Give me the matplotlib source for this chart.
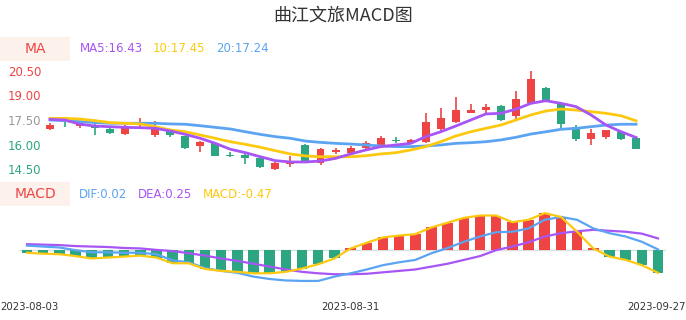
import matplotlib
matplotlib.use("Agg")
import matplotlib.pyplot as plt
import matplotlib.transforms as mtrans
from matplotlib.patches import Rectangle
import numpy as np

# ---- data ----
dates = ["2023-08-03", "2023-08-31", "2023-09-27"]
date_idx = [0, 20, 39]

opens = [16.97, 17.30, 17.15, 17.16, 16.93, 16.64, 16.99, 16.58, 16.89, 16.52,
         15.93, 16.07, 15.34, 15.38, 15.17, 14.52, 14.81, 15.97, 14.89, 15.54,
         15.50, 15.80, 15.97, 16.25, 16.07, 16.13, 16.95, 17.36, 17.95, 18.09,
         18.36, 17.76, 18.52, 19.44, 18.52, 17.09, 16.34, 16.44, 16.75, 16.38]
closes = [17.19, 17.29, 17.33, 17.04, 16.69, 17.05, 17.03, 16.99, 16.58, 15.77,
          16.17, 15.30, 15.30, 15.17, 14.64, 14.85, 14.97, 14.95, 15.71, 15.66,
          15.77, 16.11, 16.38, 16.23, 16.28, 17.36, 17.60, 18.11, 18.11, 18.28,
          17.50, 18.77, 20.01, 18.72, 17.24, 16.32, 16.69, 16.89, 16.34, 15.74]
highs = [17.30, 17.44, 17.36, 17.25, 16.98, 17.19, 17.60, 17.46, 16.92, 16.55,
         16.21, 16.09, 15.54, 15.46, 15.20, 14.95, 15.30, 16.01, 15.79, 15.77,
         15.91, 16.23, 16.52, 16.48, 16.34, 17.91, 18.22, 18.89, 18.48, 18.48,
         18.42, 19.28, 20.50, 19.50, 18.52, 17.19, 16.95, 16.89, 16.75, 16.38]
lows = [16.89, 17.09, 17.03, 16.58, 16.64, 16.61, 16.93, 16.48, 16.48, 15.74,
        15.56, 15.28, 15.23, 14.80, 14.56, 14.44, 14.64, 14.93, 14.74, 15.42,
        15.42, 15.66, 15.97, 16.07, 16.05, 16.10, 16.78, 17.30, 17.91, 17.95,
        17.44, 17.56, 18.50, 18.70, 17.03, 16.23, 15.97, 16.32, 16.28, 15.74]

ma5 = [17.54, 17.50, 17.24, 17.13, 17.09, 17.05, 17.03, 16.99, 16.83, 16.62,
       16.38, 16.07, 15.71, 15.50, 15.25, 15.01, 14.93, 14.93, 14.99, 15.15,
       15.42, 15.66, 15.87, 15.97, 16.07, 16.48, 16.78, 17.13, 17.50, 17.87,
       17.91, 18.16, 18.52, 18.68, 18.52, 18.32, 17.81, 17.19, 16.78, 16.43]
ma10 = [17.60, 17.60, 17.56, 17.46, 17.34, 17.30, 17.26, 17.09, 16.89, 16.78,
        16.58, 16.38, 16.17, 16.01, 15.83, 15.62, 15.42, 15.30, 15.25, 15.25,
        15.25, 15.31, 15.42, 15.50, 15.66, 15.87, 16.17, 16.52, 16.78, 16.99,
        17.19, 17.50, 17.81, 18.05, 18.17, 18.11, 18.01, 17.91, 17.76, 17.45]
ma20 = [17.50, 17.46, 17.40, 17.34, 17.30, 17.30, 17.30, 17.30, 17.26, 17.24,
        17.15, 17.05, 16.95, 16.78, 16.62, 16.48, 16.38, 16.21, 16.13, 16.07,
        16.03, 15.97, 15.91, 15.87, 15.87, 15.91, 15.97, 16.07, 16.11, 16.17,
        16.28, 16.44, 16.64, 16.78, 16.93, 16.99, 17.09, 17.19, 17.24, 17.24]

dif = [0.10, 0.08, 0.06, 0.005, -0.04, -0.04, -0.05, -0.05, -0.08, -0.21,
       -0.25, -0.37, -0.43, -0.47, -0.55, -0.60, -0.63, -0.64, -0.64, -0.55,
       -0.48, -0.40, -0.31, -0.25, -0.20, -0.06, 0.05, 0.18, 0.29, 0.38,
       0.39, 0.46, 0.64, 0.70, 0.64, 0.46, 0.36, 0.29, 0.18, 0.02]
dea = [0.13, 0.12, 0.11, 0.09, 0.08, 0.07, 0.05, 0.04, 0.01, -0.015,
       -0.06, -0.11, -0.17, -0.22, -0.28, -0.34, -0.40, -0.45, -0.48, -0.50,
       -0.50, -0.49, -0.46, -0.43, -0.40, -0.34, -0.28, -0.20, -0.12, 0.005,
       0.08, 0.17, 0.29, 0.36, 0.40, 0.43, 0.41, 0.39, 0.35, 0.25]
macd = [-0.05, -0.07, -0.08, -0.12, -0.17, -0.15, -0.13, -0.11, -0.15, -0.27,
        -0.27, -0.39, -0.43, -0.45, -0.48, -0.48, -0.45, -0.38, -0.29, -0.17,
        0.04, 0.16, 0.27, 0.31, 0.34, 0.48, 0.58, 0.68, 0.73, 0.73,
        0.59, 0.64, 0.78, 0.70, 0.39, 0.04, -0.13, -0.20, -0.31, -0.47]

price_ticks = [14.5, 16.0, 17.5, 19.0, 20.5]
tick_colors = ["#2ca682", "#2ca682", "#999999", "#ee4444", "#ee4444"]

RED = "#ee4444"
GREEN = "#2ca682"
PURPLE = "#a755f5"
YELLOW = "#fcc910"
BLUE = "#5ba4f2"
BOXBG = "#fdf1ec"

W, H = 686, 320
fig = plt.figure(figsize=(W / 100, H / 100), dpi=100)


def px(x0, y0, x1, y1):
    # pixel box (top-left origin) -> figure fractions
    return [x0 / W, 1 - y1 / H, (x1 - x0) / W, (y1 - y0) / H]


fig.text(0.5, 1 - 16 / H, "曲江文旅MACD图", ha="center", va="center",
         fontsize=13, color="#333333",
         family=["Noto Sans CJK SC", "DejaVu Sans"])

# ---- candlestick panel ----
ax1 = fig.add_axes(px(42.5, 65, 643.6, 175))
n = len(opens)
x = np.arange(n)
o = np.array(opens)
c = np.array(closes)
cols = [RED if cc >= oo else GREEN for oo, cc in zip(o, c)]
body_lo = np.minimum(o, c)
body_h = np.maximum(np.abs(c - o), 0.03)
ax1.vlines(x, lows, highs, colors=cols, lw=1.2, zorder=2)
ax1.bar(x, body_h, 0.53, bottom=body_lo, color=cols, zorder=3)
ax1.plot(x, ma20, color=BLUE, lw=2, zorder=4)
ax1.plot(x, ma10, color=YELLOW, lw=2, zorder=4)
ax1.plot(x, ma5, color=PURPLE, lw=2, zorder=4)
ax1.set_xlim(-0.5, n - 0.5)
ax1.set_ylim(14.133, 20.867)
ax1.set_yticks(price_ticks)
ax1.set_yticklabels([f"{t:.2f}" for t in price_ticks], fontsize=8.5)
for lab, col in zip(ax1.get_yticklabels(), tick_colors):
    lab.set_color(col)
ax1.tick_params(axis="y", length=0, pad=1)
ax1.set_xticks([])
for s in ax1.spines.values():
    s.set_visible(False)

# ---- MACD panel ----
ax2 = fig.add_axes(px(18.9, 205, 666.1, 290))
mcols = [RED if v >= 0 else GREEN for v in macd]
ax2.axhline(0, color="#dddddd", lw=1, zorder=1)
ax2.bar(x, macd, 0.65, color=mcols, zorder=2)
ax2.plot(x, dea, color=PURPLE, lw=1.6, zorder=3)
ax2.plot(x, dif, color=BLUE, lw=1.6, zorder=3)
ax2.plot(x, macd, color=YELLOW, lw=1.6, zorder=4)
ax2.set_xlim(-0.5, n - 0.5)
ax2.set_ylim(-0.83, 0.95)
ax2.set_yticks([])
ax2.set_xticks(date_idx)
ax2.set_xticklabels(dates, fontsize=7.3, color="#333333")
ax2.tick_params(axis="x", length=0, pad=9)
labs = ax2.get_xticklabels()
labs[0].set_ha("left")
labs[-1].set_ha("right")
# keep the edge labels inside the figure like the reference
labs[0].set_transform(labs[0].get_transform() + mtrans.ScaledTranslation(-27 / 100, 0, fig.dpi_scale_trans))
labs[-1].set_transform(labs[-1].get_transform() + mtrans.ScaledTranslation(28 / 100, 0, fig.dpi_scale_trans))
for s in ax2.spines.values():
    s.set_visible(False)

# ---- legend strips ----
for (y0, y1, name) in [(37, 61, "MA"), (182, 206, "MACD")]:
    fig.add_artist(Rectangle((0, 1 - y1 / H), 70 / W, (y1 - y0) / H,
                             transform=fig.transFigure, color=BOXBG, lw=0))
    fig.text(35 / W, 1 - (y0 + y1) / 2 / H, name, ha="center", va="center",
             fontsize=10, color=RED)

ma_labels = [("MA5:%.2f" % ma5[-1], PURPLE, 80), ("10:%.2f" % ma10[-1], YELLOW, 153),
             ("20:%.2f" % ma20[-1], BLUE, 216)]
for txt, col, xp in ma_labels:
    fig.text(xp / W, 1 - 49 / H, txt, ha="left", va="center", fontsize=8.5, color=col)

macd_labels = [("DIF:%.2f" % dif[-1], BLUE, 79), ("DEA:%.2f" % dea[-1], PURPLE, 138),
               ("MACD:%.2f" % macd[-1], YELLOW, 203)]
for txt, col, xp in macd_labels:
    fig.text(xp / W, 1 - 194 / H, txt, ha="left", va="center", fontsize=8.5, color=col)

fig.savefig("out.png", dpi=100)
